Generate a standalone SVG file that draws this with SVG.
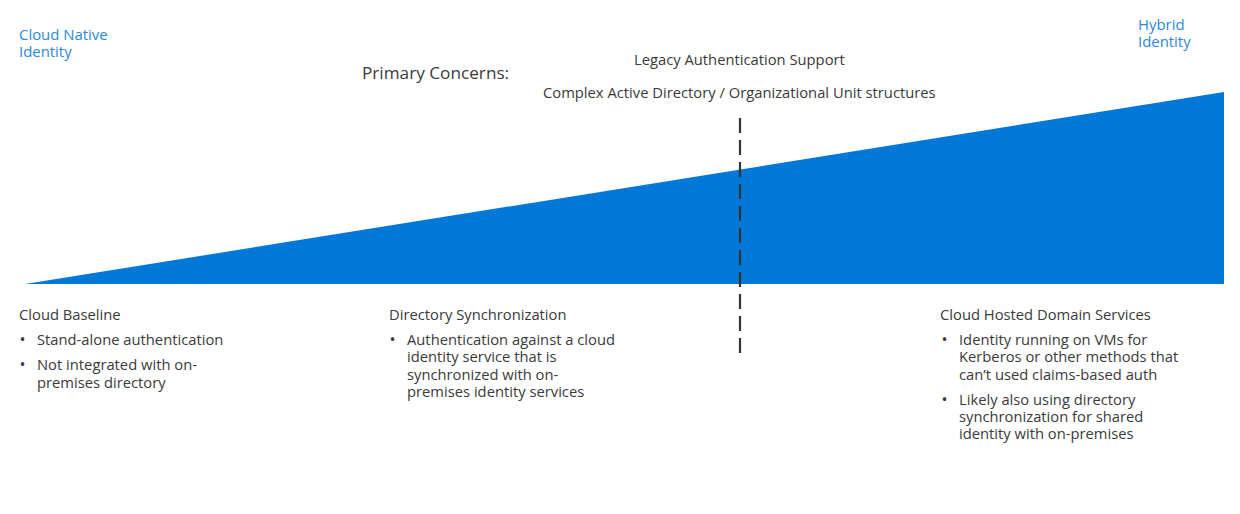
<svg xmlns="http://www.w3.org/2000/svg" width="1240" height="514" viewBox="0 0 1240 514">
<style>
text{font-family:"Open Sans","Noto Sans","Liberation Sans",sans-serif;fill:#3a3a3a;}
.blue{fill:#2b88e0;font-size:14.9px;}
.body{font-size:14.75px;}
.head{font-size:17.2px;}
.bul{font-size:16px;}
</style>
<rect width="1240" height="514" fill="#fff"/>
<g id="wedge"><polygon points="25,284 1224,92 1224,284" fill="#0078d7"/></g>
<g id="connectors"><line x1="740" y1="118" x2="740" y2="354" stroke="#333" stroke-width="2.2" stroke-dasharray="15,7"/></g>
<g id="cloud-native"><text class="blue" x="19" y="40">Cloud Native<tspan x="19" dy="17">Identity</tspan></text></g>
<g id="hybrid"><text class="blue" x="1138" y="30">Hybrid<tspan x="1138" dy="17">Identity</tspan></text></g>
<g id="concerns">
<text class="head" x="362" y="79">Primary Concerns:</text>
<text class="body" x="634" y="65">Legacy  Authentication Support</text>
<text class="body" x="543" y="98">Complex Active Directory / Organizational Unit structures</text>
</g>
<g id="cloud-baseline">
<text class="body" x="19" y="320">Cloud Baseline</text>
<text class="bul" x="19.5" y="345">•</text><text class="body" x="37" y="345">Stand-alone authentication</text>
<text class="bul" x="19.5" y="370">•</text><text class="body" x="37" y="370">Not integrated with on-<tspan x="37" dy="18">premises directory</tspan></text>
</g>
<g id="directory-sync">
<text class="body" x="389" y="320">Directory Synchronization</text>
<text class="bul" x="389.5" y="345">•</text><text class="body" x="407" y="345">Authentication against a cloud<tspan x="407" dy="17">identity service that is</tspan><tspan x="407" dy="18">synchronized with on-</tspan><tspan x="407" dy="17">premises identity services</tspan></text>
</g>
<g id="cloud-hosted">
<text class="body" x="940" y="320">Cloud Hosted Domain Services</text>
<text class="bul" x="941.5" y="345">•</text><text class="body" x="959" y="345">Identity running on VMs for<tspan x="959" dy="17">Kerberos or other methods that</tspan><tspan x="959" dy="18">can’t used claims-based auth</tspan></text>
<text class="bul" x="941.5" y="405">•</text><text class="body" x="959" y="405">Likely also using directory<tspan x="959" dy="17">synchronization for shared</tspan><tspan x="959" dy="17">identity with on-premises</tspan></text>
</g>
</svg>
